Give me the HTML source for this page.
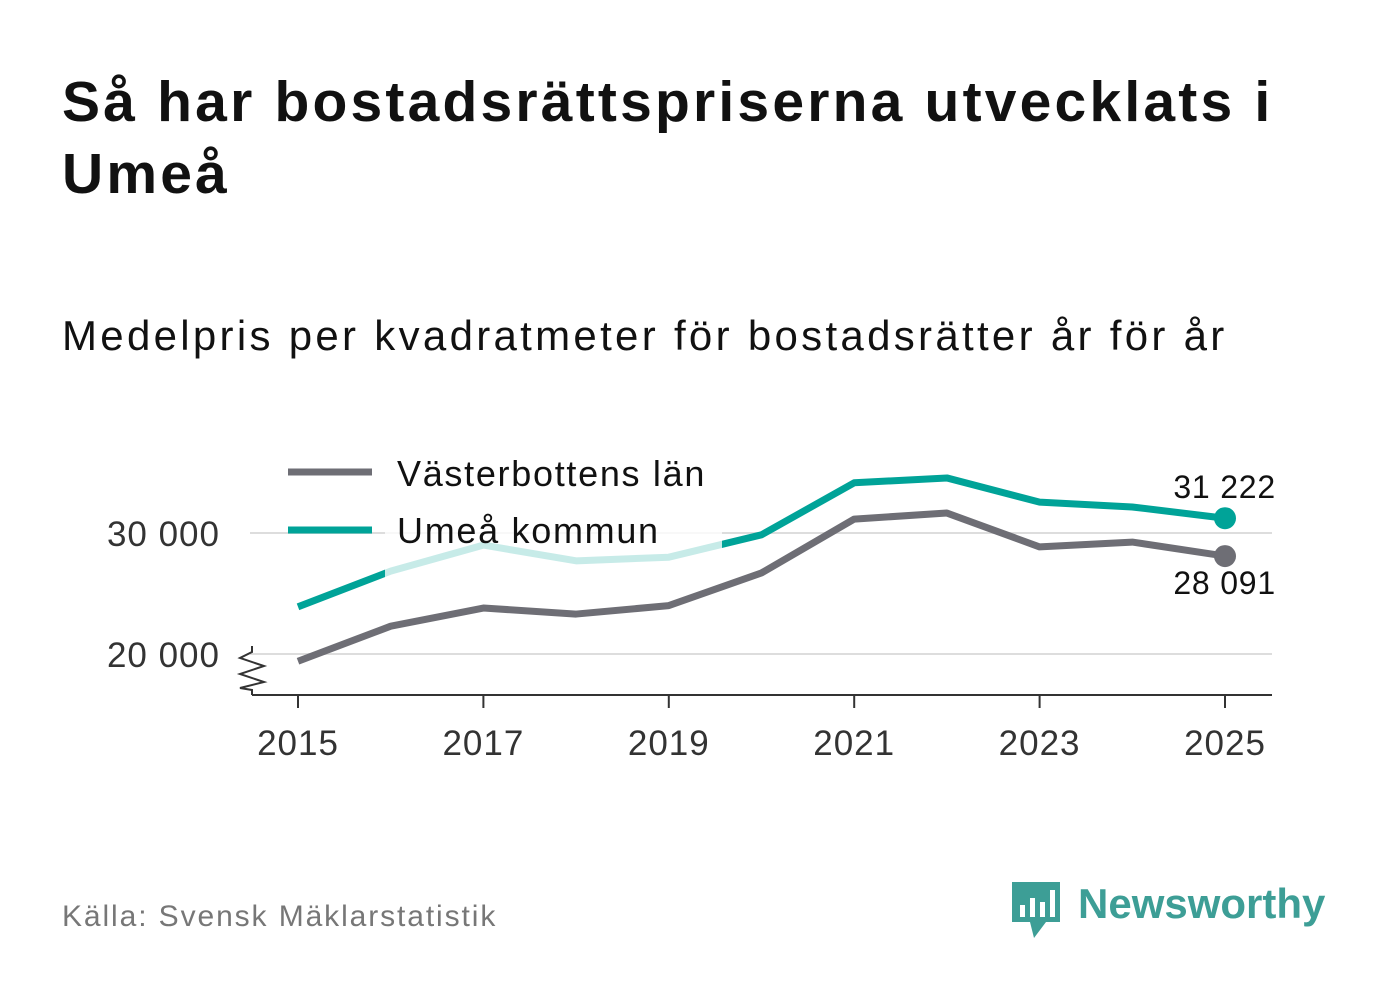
<!DOCTYPE html>
<html><head><meta charset="utf-8"><style>
body{margin:0;width:1382px;height:999px;background:#fff;font-family:"Liberation Sans",sans-serif;overflow:hidden;position:relative}
.t{position:absolute;left:62px;top:66px;font-size:57px;font-weight:bold;line-height:72px;color:#111;width:1320px;letter-spacing:3.2px}
.s{position:absolute;left:62px;top:312px;font-size:42px;color:#111;letter-spacing:3.3px}
.src{position:absolute;left:62px;top:900px;font-size:30px;color:#777;letter-spacing:1.9px}
</style></head><body>
<div class="t">Så har bostadsrättspriserna utvecklats i<br>Umeå</div>
<div class="s">Medelpris per kvadratmeter för bostadsrätter år för år</div>
<div class="src">Källa: Svensk Mäklarstatistik</div>
<svg width="1382" height="999" style="position:absolute;left:0;top:0">
<g id="g"></g>
</svg>
<script>
const years=[2015,2016,2017,2018,2019,2020,2021,2022,2023,2024,2025];
const lan=[19400,22300,23800,23300,24000,26700,31150,31650,28850,29250,28091];
const umea=[23900,26850,29000,27700,28000,29850,34150,34550,32550,32150,31222];
const yTicks=[20000,30000];
const xTicks=[2015,2017,2019,2021,2023,2025];
const X=y=>298+(y-2015)*92.7;
const Y=v=>654-(v-20000)*0.0121;
const g=document.getElementById('g');const NS='http://www.w3.org/2000/svg';
function mk(t,a,txt){const e=document.createElementNS(NS,t);for(const k in a)e.setAttribute(k,a[k]);if(txt!=null)e.textContent=txt;g.appendChild(e);return e;}
const fmt=v=>String(v).replace(/\B(?=(\d{3})+(?!\d))/g,' ');
yTicks.forEach(v=>{
 let e=mk('line',{x1:250,x2:1272,y1:Y(v),y2:Y(v),stroke:'#ddd','stroke-width':2});
 
 e=mk('text',{x:220,y:Y(v)+13,'text-anchor':'end','font-size':35,fill:'#333','letter-spacing':1},fmt(v));
 
});
let ax=mk('path',{d:'M252,695 H1272',stroke:'#333','stroke-width':2,fill:'none'});

let br=mk('path',{d:'M252,646 L252,652 L240,658 L264,666 L240,674 L264,682 L240,688 L252,690 L252,695',stroke:'#333','stroke-width':2,fill:'none'});

xTicks.forEach(y=>{
 let e=mk('line',{x1:X(y),x2:X(y),y1:695,y2:708,stroke:'#333','stroke-width':2});
 
 e=mk('text',{x:X(y),y:755,'text-anchor':'middle','font-size':35,fill:'#333','letter-spacing':1},y);
 
});
function line(d,c,n){const p=d.map((v,i)=>(i?'L':'M')+X(years[i])+','+Y(v)).join(' ');
 const e=mk('path',{d:p,stroke:c,'stroke-width':7,fill:'none','stroke-linejoin':'round'});
 
 const L=d.length-1;const c2=mk('circle',{cx:X(years[L]),cy:Y(d[L]),r:11,fill:c});
 }
line(lan,'#6e6e75','vasterbotten-line');
line(umea,'#00a398','umea-line');
let ov=mk('rect',{x:385,y:440,width:337,height:138,fill:'#fff','fill-opacity':0.78});

let l1=mk('line',{x1:288,x2:372,y1:472,y2:472,stroke:'#6e6e75','stroke-width':7});

let t1=mk('text',{x:397,y:486,'font-size':36,fill:'#111','letter-spacing':1.7},'Västerbottens län');

let l2=mk('line',{x1:288,x2:372,y1:530,y2:530,stroke:'#00a398','stroke-width':7});

let t2=mk('text',{x:397,y:543,'font-size':36,fill:'#111','letter-spacing':1.7},'Umeå kommun');

const L=years.length-1;
let v1=mk('text',{x:1276,y:Y(umea[L])-20,'text-anchor':'end','font-size':32,fill:'#111','letter-spacing':0.8},fmt(umea[L]));

let v2=mk('text',{x:1276,y:Y(lan[L])+38,'text-anchor':'end','font-size':32,fill:'#111','letter-spacing':0.8},fmt(lan[L]));

let lg=mk('path',{d:'M1012,882 H1060 V922 H1046 L1034,938 L1030,922 H1012 Z',fill:'#3d9e96'});

[[1020,905,12],[1030,898,19],[1040,902,15],[1050,890,27]].forEach(b=>{const r=mk('rect',{x:b[0],y:b[1],width:5,height:b[2],fill:'#fff'});});
let lt=mk('text',{x:1078,y:918,'font-size':42,'font-weight':'bold',fill:'#3d9e96'},'Newsworthy');

</script>
</body></html>
